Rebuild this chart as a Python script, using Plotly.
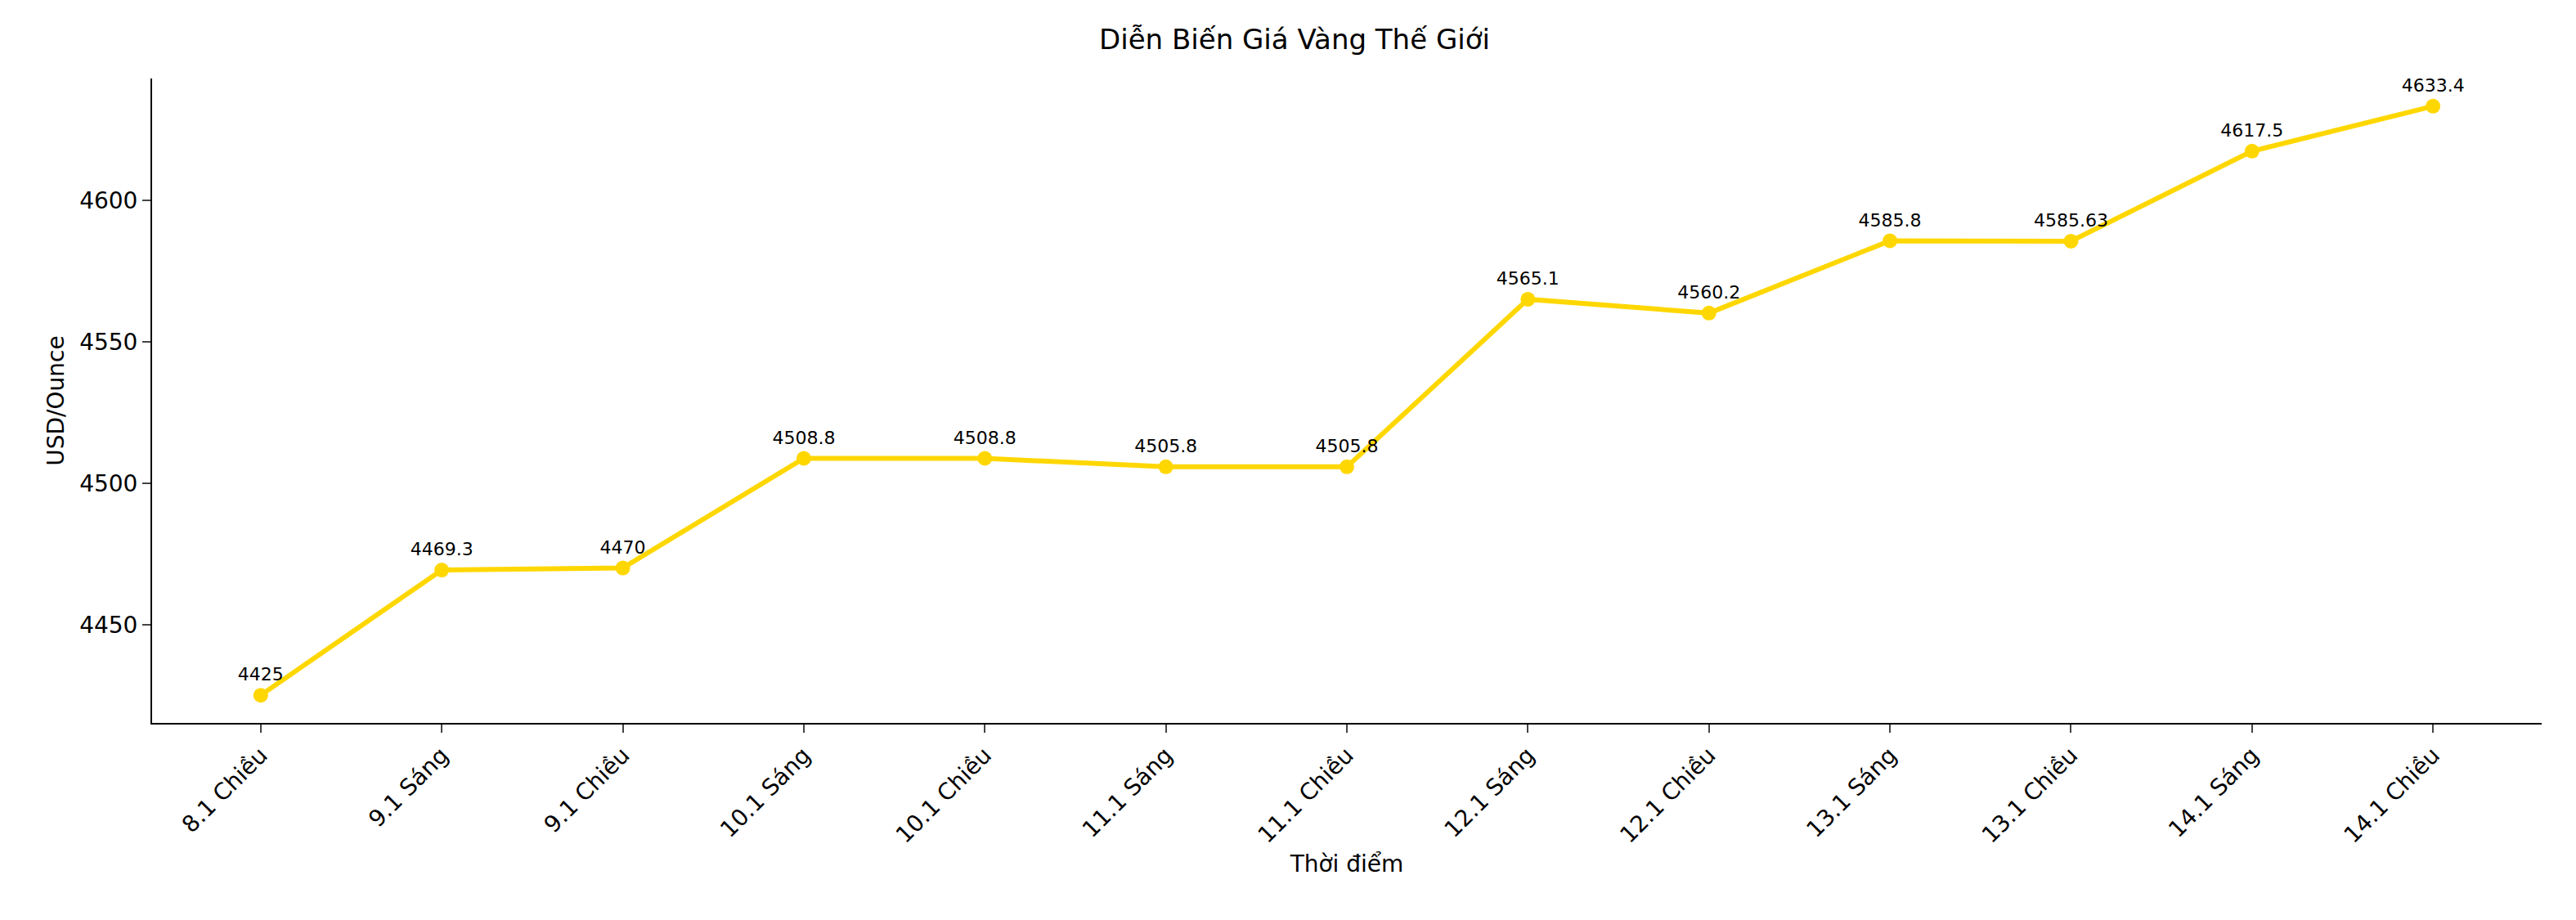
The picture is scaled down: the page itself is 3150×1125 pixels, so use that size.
import plotly.graph_objects as go

# Dữ liệu giá vàng thế giới
thoi_diem = ["8.1 Chiều", "9.1 Sáng", "9.1 Chiều", "10.1 Sáng", "10.1 Chiều",
             "11.1 Sáng", "11.1 Chiều", "12.1 Sáng", "12.1 Chiều", "13.1 Sáng",
             "13.1 Chiều", "14.1 Sáng", "14.1 Chiều"]
gia = [4425, 4469.3, 4470, 4508.8, 4508.8, 4505.8, 4505.8,
       4565.1, 4560.2, 4585.8, 4585.63, 4617.5, 4633.4]
nhan = ["4425", "4469.3", "4470", "4508.8", "4508.8", "4505.8", "4505.8",
        "4565.1", "4560.2", "4585.8", "4585.63", "4617.5", "4633.4"]

fig = go.Figure()
fig.add_trace(go.Scatter(
    x=list(range(len(thoi_diem))), y=gia,
    mode="lines+markers+text",
    line=dict(color="#FFD700", width=6),
    marker=dict(color="#FFD700", size=18),
    text=nhan, textposition="top center",
    textfont=dict(size=22, color="black"),
))

fig.update_layout(
    title=dict(text="Diễn Biến Giá Vàng Thế Giới", x=0.5, y=0.975,
               font=dict(size=34, color="black")),
    font=dict(family="DejaVu Sans", color="black"),
    width=3150, height=1125,
    plot_bgcolor="white", paper_bgcolor="white",
    showlegend=False,
    margin=dict(l=178, r=50, t=88, b=249),
)
fig.update_xaxes(
    tickvals=list(range(len(thoi_diem))), ticktext=thoi_diem, tickangle=-45,
    range=[-0.6, 12.6], showgrid=False, zeroline=False,
    showline=True, linecolor="black", linewidth=2,
    ticks="outside", ticklen=10, tickwidth=2, tickfont=dict(size=28),
    title=dict(text="Thời điểm", font=dict(size=28), standoff=10),
)
fig.update_yaxes(
    range=[4415.2, 4643.2], tickvals=[4450, 4500, 4550, 4600],
    showgrid=False, zeroline=False,
    showline=True, linecolor="black", linewidth=2,
    ticks="outside", ticklen=10, tickwidth=2, tickfont=dict(size=28),
    title=dict(text="USD/Ounce", font=dict(size=28), standoff=10),
)

fig.write_html("out.html")
